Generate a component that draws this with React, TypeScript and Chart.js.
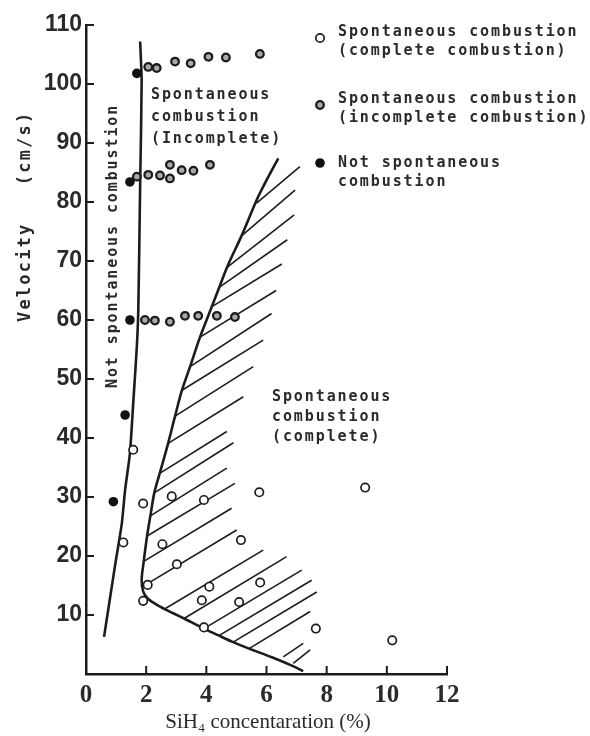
import React, { useEffect, useRef } from 'react';
import { Chart, registerables } from 'chart.js';

Chart.register(...registerables);

// ---- data (x: SiH4 concentration %, y: velocity cm/s) ----
const xTickValues = [0, 2, 4, 6, 8, 10, 12];
const yTickValues = [10, 20, 30, 40, 50, 60, 70, 80, 90, 100, 110];

const completeCombustion: [number, number][] = [
  [1.9, 28.9], [2.85, 30.1], [3.92, 29.5], [5.76, 30.8], [9.28, 31.6],
  [1.24, 22.3], [2.54, 22.0], [5.15, 22.7], [3.02, 18.6], [2.05, 15.1],
  [4.1, 14.8], [5.79, 15.5], [1.9, 12.4], [3.85, 12.5], [5.09, 12.2],
  [3.92, 7.9], [7.64, 7.7], [10.18, 5.7], [1.57, 38.0],
];

const incompleteCombustion: [number, number][] = [
  [2.07, 102.9], [2.35, 102.7], [2.96, 103.8], [3.48, 103.5], [4.07, 104.6], [4.65, 104.5], [5.78, 105.1],
  [1.69, 84.3], [2.07, 84.6], [2.46, 84.5], [2.79, 86.3], [2.79, 84.0], [3.18, 85.4], [3.57, 85.3], [4.12, 86.3],
  [1.96, 60.0], [2.29, 59.9], [2.79, 59.7], [3.29, 60.7], [3.73, 60.7], [4.35, 60.7], [4.95, 60.5],
];

const notSpontaneous: [number, number][] = [
  [0.91, 29.2], [1.3, 43.9], [1.46, 60.0], [1.46, 83.4], [1.69, 101.8],
];

const leftBoundary: [number, number][] = [
  [0.6, 6.3], [0.96, 18.2], [1.19, 25.5], [1.3, 31.2], [1.46, 37.4], [1.57, 45.9],
  [1.69, 55.5], [1.74, 62], [1.8, 83], [1.85, 100.5], [1.8, 107.2],
];

const hatchBoundary: [number, number][] = [
  [6.39, 87.4], [5.95, 83.2], [5.67, 80.3], [5.2, 74.6], [4.71, 69.2], [4.45, 65.8], [4.2, 62.5],
  [3.79, 57.1], [3.46, 52.1], [3.19, 48.1], [2.96, 43.7], [2.73, 39.1], [2.45, 34.0], [2.27, 30.7],
  [2.14, 26.8], [2.03, 23.4], [1.92, 19.1], [1.85, 16.0], [1.9, 14.0], [2.05, 12.8], [2.4, 11.6],
  [2.9, 10.3], [3.26, 9.4], [3.92, 7.7], [4.42, 6.5], [4.89, 5.4], [5.42, 4.3], [6.2, 2.8],
  [6.9, 1.3], [7.22, 0.5],
];

// hatch strokes: [x1, y1, x2, y2]
const hatchSegments: [number, number, number, number][] = [
  [5.67, 79.8, 7.11, 86.0],
  [5.2, 74.4, 6.95, 82.0],
  [4.71, 69.0, 6.92, 77.8],
  [4.45, 65.6, 6.69, 73.6],
  [4.2, 62.3, 6.51, 69.5],
  [3.79, 57.1, 6.32, 65.0],
  [3.46, 52.1, 6.17, 61.1],
  [3.19, 48.1, 5.89, 56.6],
  [2.96, 43.7, 5.56, 52.1],
  [2.73, 39.1, 5.23, 47.0],
  [2.45, 34.0, 4.68, 41.1],
  [2.27, 30.7, 4.9, 39.2],
  [2.14, 26.8, 4.68, 34.9],
  [2.03, 23.4, 4.95, 32.3],
  [1.92, 19.1, 4.84, 28.1],
  [1.88, 14.8, 5.01, 24.4],
  [2.64, 11.1, 5.89, 21.0],
  [3.26, 9.4, 6.67, 19.9],
  [3.92, 7.7, 7.17, 17.6],
  [4.42, 6.5, 7.5, 15.9],
  [4.89, 5.4, 7.67, 13.9],
  [5.42, 4.3, 7.45, 10.6],
  [6.56, 2.9, 7.22, 5.2],
  [6.89, 1.8, 7.45, 4.1],
];

const legendLabels: string[][] = [
  ['Spontaneous combustion', '(complete combustion)'],
  ['Spontaneous combustion', '(incomplete combustion)'],
  ['Not spontaneous', 'combustion'],
];
const incompleteRegionLabel = ['Spontaneous', 'combustion', '(Incomplete)'];
const completeRegionLabel = ['Spontaneous', 'combustion', '(complete)'];
const notSpontaneousLabel = 'Not spontaneous combustion';
const yTitle = 'Velocity   (cm/s)';
const xTitle = 'SiH\u2084 concentaration (%)';

const INK = '#1c1c1c';
const TEXT = '#2a2a2a';
const MONO = "'DejaVu Sans Mono', 'Liberation Mono', monospace";

const toXY = (arr: [number, number][]) => arr.map(([x, y]) => ({ x, y }));

function drawMarker(ctx: CanvasRenderingContext2D, kind: number, x: number, y: number) {
  ctx.save();
  ctx.beginPath();
  if (kind === 0) {
    ctx.arc(x, y, 4.2, 0, Math.PI * 2);
    ctx.fillStyle = '#fff';
    ctx.fill();
    ctx.lineWidth = 1.7;
    ctx.strokeStyle = INK;
    ctx.stroke();
  } else if (kind === 1) {
    ctx.arc(x, y, 3.8, 0, Math.PI * 2);
    ctx.fillStyle = '#aaa';
    ctx.fill();
    ctx.lineWidth = 2.3;
    ctx.strokeStyle = INK;
    ctx.stroke();
  } else {
    ctx.arc(x, y, 4.8, 0, Math.PI * 2);
    ctx.fillStyle = '#111';
    ctx.fill();
  }
  ctx.restore();
}

const decorPlugin = {
  id: 'decor',
  beforeDraw(chart: any) {
    const ctx = chart.ctx as CanvasRenderingContext2D;
    ctx.save();
    ctx.fillStyle = '#fff';
    ctx.fillRect(0, 0, chart.width, chart.height);
    ctx.restore();
  },
  afterDraw(chart: any) {
    const ctx = chart.ctx as CanvasRenderingContext2D;
    const { chartArea, scales } = chart;
    ctx.save();
    // inward tick marks
    ctx.strokeStyle = INK;
    ctx.lineWidth = 2;
    yTickValues.forEach((v) => {
      const py = scales.y.getPixelForValue(v);
      ctx.beginPath();
      ctx.moveTo(chartArea.left, py);
      ctx.lineTo(chartArea.left + 8, py);
      ctx.stroke();
    });
    xTickValues.filter((v) => v > 0).forEach((v) => {
      const px = scales.x.getPixelForValue(v);
      ctx.beginPath();
      ctx.moveTo(px, chartArea.bottom);
      ctx.lineTo(px, chartArea.bottom - 8);
      ctx.stroke();
    });

    // legend
    ctx.fillStyle = TEXT;
    ctx.font = `bold 15px ${MONO}`;
    (ctx as any).letterSpacing = '1.9px';
    ctx.textAlign = 'left';
    ctx.textBaseline = 'alphabetic';
    const legendMarkerY = [38, 105, 163];
    const legendBase = [36, 103, 167];
    legendLabels.forEach((lines, i) => {
      drawMarker(ctx, i, 320, legendMarkerY[i]);
      ctx.fillStyle = TEXT;
      lines.forEach((t, j) => ctx.fillText(t, 338, legendBase[i] + j * 19));
    });

    // region labels
    incompleteRegionLabel.forEach((t, j) => ctx.fillText(t, 151, 99 + j * 22));
    completeRegionLabel.forEach((t, j) => ctx.fillText(t, 272, 401 + j * 20));

    // rotated label inside
    ctx.save();
    ctx.translate(117, 388);
    ctx.rotate(-Math.PI / 2);
    ctx.fillText(notSpontaneousLabel, 0, 0);
    ctx.restore();

    // y title
    ctx.save();
    ctx.font = `bold 17px ${MONO}`;
    (ctx as any).letterSpacing = '2.2px';
    ctx.translate(30, 322);
    ctx.rotate(-Math.PI / 2);
    ctx.fillText(yTitle, 0, 0);
    ctx.restore();

    // x title
    (ctx as any).letterSpacing = '0px';
    ctx.font = "21px 'Liberation Serif', serif";
    ctx.textAlign = 'center';
    ctx.fillText(xTitle, 268, 728);
    ctx.restore();
  },
};

export default function App() {
  const canvasRef = useRef<HTMLCanvasElement | null>(null);

  useEffect(() => {
    const canvas = canvasRef.current;
    if (!canvas) return;

    const lineDs = (data: [number, number][], width: number, tension: number) => ({
      type: 'line' as const,
      data: toXY(data),
      showLine: true,
      borderColor: INK,
      borderWidth: width,
      pointRadius: 0,
      tension,
      fill: false,
    });

    const datasets: any[] = [
      {
        label: 'Not spontaneous combustion',
        data: toXY(notSpontaneous),
        pointRadius: 4.8,
        pointBackgroundColor: '#111',
        pointBorderColor: '#111',
        pointBorderWidth: 0,
      },
      {
        label: 'Spontaneous combustion (incomplete combustion)',
        data: toXY(incompleteCombustion),
        pointRadius: 3.8,
        pointBackgroundColor: '#aaa',
        pointBorderColor: INK,
        pointBorderWidth: 2.3,
      },
      {
        label: 'Spontaneous combustion (complete combustion)',
        data: toXY(completeCombustion),
        pointRadius: 4.2,
        pointBackgroundColor: '#fff',
        pointBorderColor: INK,
        pointBorderWidth: 1.7,
      },
      lineDs(leftBoundary, 2.6, 0.2),
      lineDs(hatchBoundary, 2.6, 0.3),
      ...hatchSegments.map(([x1, y1, x2, y2]) =>
        lineDs([[x1, y1], [x2, y2]], 1.6, 0)
      ),
    ];

    const chart = new Chart(canvas, {
      type: 'scatter',
      data: { datasets },
      options: {
        responsive: false,
        animation: false,
        devicePixelRatio: 1,
        layout: { padding: { left: 0, top: 25, right: 143, bottom: 0 } },
        plugins: { legend: { display: false }, tooltip: { enabled: false } },
        scales: {
          x: {
            type: 'linear',
            min: 0,
            max: 12,
            afterFit: (s: any) => { s.height = 62; },
            grid: { display: false, drawTicks: false },
            border: { display: true, color: INK, width: 2.5 },
            ticks: {
              stepSize: 2,
              padding: 7,
              color: TEXT,
              font: { family: "'Liberation Serif', serif", size: 25, weight: 'bold' },
            },
          },
          y: {
            type: 'linear',
            min: 0,
            max: 110,
            afterFit: (s: any) => { s.width = 86; },
            grid: { display: false, drawTicks: false },
            border: { display: true, color: INK, width: 2.5 },
            ticks: {
              stepSize: 10,
              padding: 4,
              color: TEXT,
              font: { family: "'Liberation Sans Narrow', 'Liberation Sans', sans-serif", size: 23, weight: 'bold' },
              callback: (v: any) => (v === 0 ? '' : String(v)),
            },
          },
        },
      },
      plugins: [decorPlugin],
    });

    return () => chart.destroy();
  }, []);

  return (
    <div style={{ position: 'fixed', left: 0, top: 0, width: 590, height: 736, background: '#fff' }}>
      <canvas ref={canvasRef} width={590} height={736} style={{ display: 'block' }} />
    </div>
  );
}
